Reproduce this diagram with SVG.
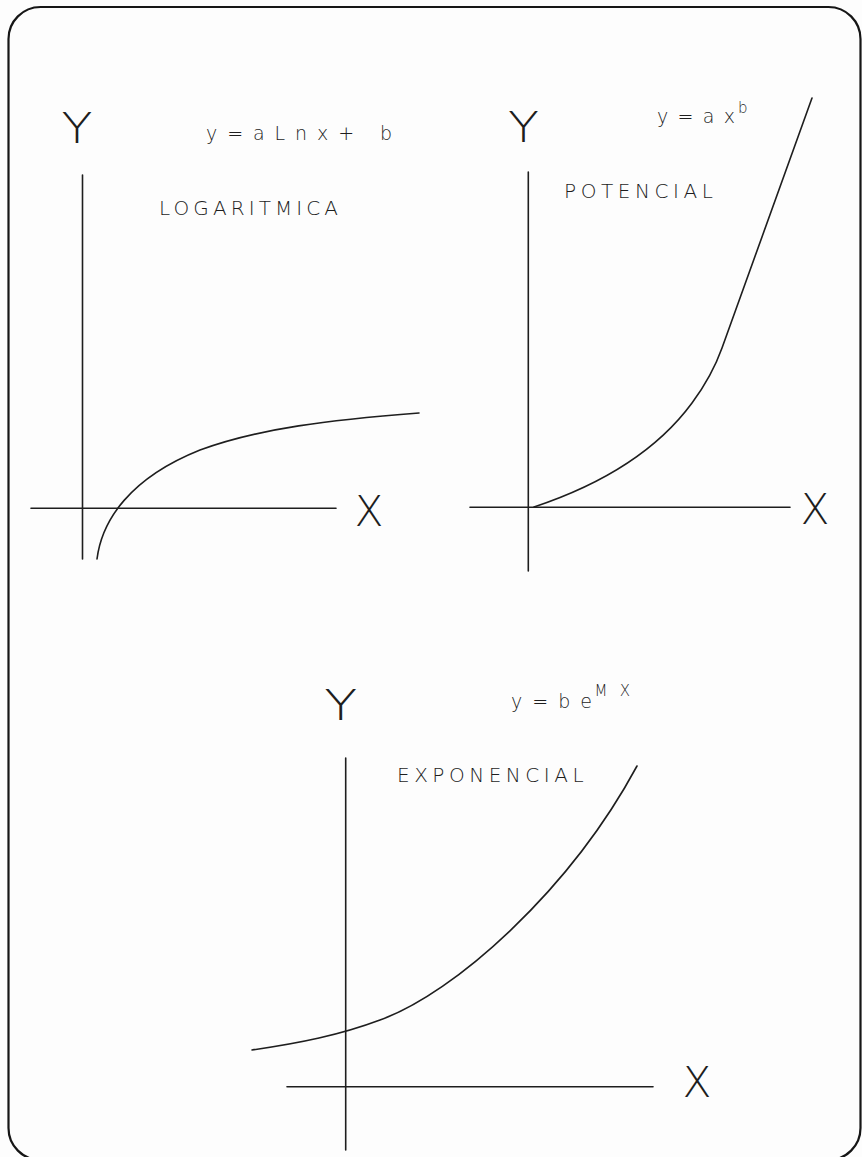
<svg xmlns="http://www.w3.org/2000/svg" width="862" height="1157" viewBox="0 0 862 1157">
<style>
.ln{fill:none;stroke:#1e1e1e;stroke-width:1.6;stroke-linecap:round}
.fr{fill:none;stroke:#161616;stroke-width:2.2}
text{font-family:"DejaVu Sans","Liberation Sans",sans-serif;font-weight:200;fill:#1e1e1e}
.ax{font-size:42px;text-anchor:middle}
.lb{font-size:20px}
.eq{font-size:19px}
.sp{font-size:15px}
</style>
<rect width="862" height="1157" fill="#fdfdfd"/>
<rect class="fr" x="8.5" y="7" width="852" height="1153" rx="32" ry="32"/>
<g id="connectors">
<path class="ln" d="M82.5,175 V559"/>
<path class="ln" d="M31,508.3 H336"/>
<path class="ln" d="M528.3,172 V571"/>
<path class="ln" d="M470,507.3 H790"/>
<path class="ln" d="M345.7,758 V1150"/>
<path class="ln" d="M287,1086.7 H653"/>
</g>
<g id="log">
<text class="ax" x="77" y="143" textLength="31" lengthAdjust="spacingAndGlyphs">Y</text>
<text class="ax" x="369" y="526" textLength="29" lengthAdjust="spacingAndGlyphs">X</text>
<text class="eq" x="206" y="140" textLength="186" lengthAdjust="spacing">y=aLnx+ b</text>
<text class="lb" x="159" y="215" textLength="179" lengthAdjust="spacing">LOGARITMICA</text>
<path class="ln" d="M97,559 C102,520 130,478 200,450 C260,428 330,420 419,413"/>
</g>
<g id="potencial">
<text class="ax" x="523.5" y="142" textLength="31" lengthAdjust="spacingAndGlyphs">Y</text>
<text class="ax" x="815" y="524" textLength="29" lengthAdjust="spacingAndGlyphs">X</text>
<text class="eq" x="657" y="123" textLength="78" lengthAdjust="spacing">y=ax</text>
<text class="sp" x="738" y="113">b</text>
<text class="lb" x="564" y="197.5" textLength="149" lengthAdjust="spacing">POTENCIAL</text>
<path class="ln" d="M534,507 C585,490 650,460 692,403 Q712,376 722,348 L812,98"/>
</g>
<g id="exponencial">
<text class="ax" x="340.7" y="720" textLength="33" lengthAdjust="spacingAndGlyphs">Y</text>
<text class="ax" x="697" y="1097" textLength="29" lengthAdjust="spacingAndGlyphs">X</text>
<text class="eq" x="511" y="708" textLength="81" lengthAdjust="spacing">y=be</text>
<text class="sp" x="594.5" y="696" textLength="35.5" lengthAdjust="spacing">MX</text>
<text class="lb" x="397" y="782.3" textLength="186.6" lengthAdjust="spacing">EXPONENCIAL</text>
<path class="ln" d="M252,1050 C300,1043 340,1035 380,1020 C455,993 570,890 637,766"/>
</g>
</svg>
